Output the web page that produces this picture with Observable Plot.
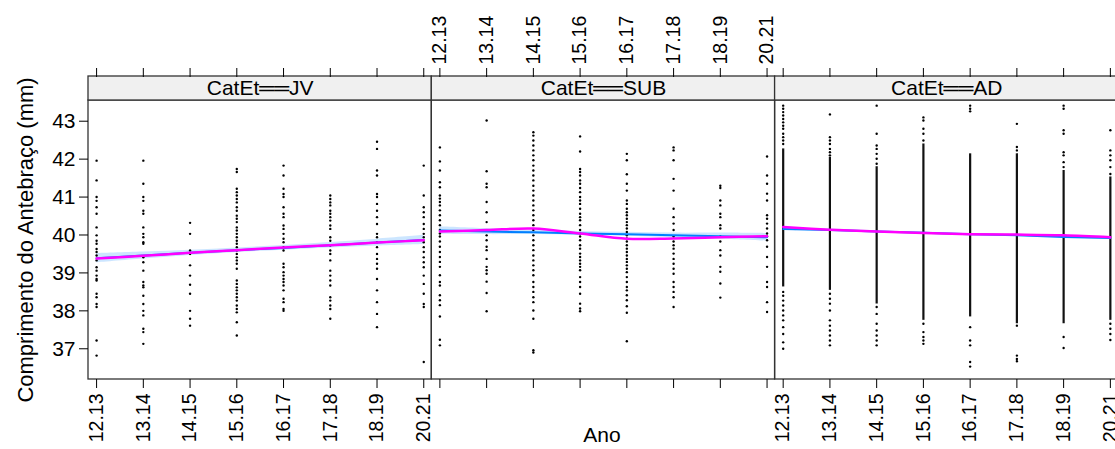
<!DOCTYPE html>
<html><head><meta charset="utf-8">
<script src="https://cdn.jsdelivr.net/npm/d3@7"></script>
<script src="https://cdn.jsdelivr.net/npm/@observablehq/plot@0.6"></script>
<style>
html,body{margin:0;padding:0;background:#fff;overflow:hidden;}
#chart svg{display:block;overflow:hidden;}
</style></head><body><div id="chart"></div>
<script>
// ---------- data ----------
const seasons = ["12.13","13.14","14.15","15.16","16.17","17.18","18.19","20.21"];
const panelNames = ["JV","SUB","AD"];
const yTicks = [37,38,39,40,41,42,43];

// individual forearm lengths (mm) per season
const ptsJV = [
  [41.96,41.44,41.0,40.9,40.73,40.56,40.2,39.99,39.85,39.77,39.63,39.55,39.46,39.33,39.15,39.06,38.93,38.84,38.8,38.45,38.36,38.18,38.1,37.22,36.82],
  [41.96,41.35,41.0,40.9,40.64,40.56,40.2,40.03,39.94,39.81,39.77,39.41,39.28,39.06,38.76,38.67,38.62,38.4,38.18,38.0,37.88,37.53,37.44,37.13],
  [40.32,40.03,39.59,39.5,39.2,38.93,38.69,38.45,38.0,37.79,37.61],
  [41.74,41.66,41.22,41.13,41.04,40.95,40.86,40.73,40.64,40.51,40.43,40.34,40.2,40.12,40.03,39.94,39.85,39.77,39.68,39.59,39.5,39.41,39.33,39.24,39.11,38.8,38.71,38.62,38.54,38.45,38.36,38.27,38.14,38.05,37.96,37.7,37.35],
  [41.83,41.57,41.22,41.08,41.0,40.73,40.56,40.47,40.25,40.16,40.03,39.9,39.81,39.68,39.59,39.24,39.15,39.02,38.93,38.84,38.76,38.67,38.54,38.32,38.23,38.05,38.0],
  [41.04,40.95,40.86,40.78,40.64,40.56,40.47,40.38,40.25,40.16,39.94,39.85,39.72,39.59,39.5,39.33,39.06,38.93,38.8,38.67,38.36,38.27,38.14,38.05,37.79],
  [42.46,42.27,41.7,41.57,41.08,41.0,40.82,40.64,40.47,40.29,40.03,39.94,39.81,39.68,39.5,39.37,39.24,39.11,38.84,38.54,38.23,37.92,37.57],
  [41.83,41.04,40.73,40.6,40.47,40.29,40.16,40.03,39.94,39.81,39.68,39.55,39.41,39.28,39.15,38.93,38.71,38.45,38.18,38.1,36.65]
];
const ptsSUB = [
  [42.31,41.94,41.7,41.39,41.26,41.04,40.96,40.87,40.78,40.65,40.52,40.39,40.26,40.13,40.04,39.96,39.83,39.69,39.55,39.42,39.29,39.16,38.94,38.76,38.67,38.41,38.28,38.15,37.85,37.24,37.09],
  [43.02,41.68,41.35,41.26,40.87,40.6,40.34,39.99,39.86,39.69,39.6,39.37,39.16,39.07,38.98,38.77,38.47,37.99],
  [42.71,42.62,42.49,42.36,42.23,42.1,41.97,41.83,41.7,41.57,41.44,41.3,41.17,41.04,40.91,40.78,40.65,40.52,40.39,40.26,40.13,39.99,39.86,39.73,39.6,39.46,39.33,39.2,39.07,38.94,38.76,38.63,38.5,38.36,38.23,38.01,37.79,36.96,36.9],
  [42.6,42.2,41.74,41.66,41.57,41.44,41.35,41.24,41.13,41.0,40.91,40.82,40.69,40.56,40.47,40.39,40.26,40.13,40.04,39.96,39.86,39.73,39.64,39.51,39.42,39.33,39.24,39.16,39.07,38.89,38.76,38.63,38.45,38.19,38.06,37.99],
  [42.14,41.97,41.6,41.35,41.17,40.91,40.82,40.69,40.6,40.52,40.43,40.34,40.26,40.17,40.08,39.99,39.91,39.83,39.73,39.64,39.55,39.46,39.37,39.29,39.2,39.11,39.02,38.89,38.76,38.63,38.54,38.41,38.28,38.12,37.95,37.2],
  [42.31,42.23,41.97,41.48,41.17,40.69,40.47,40.3,40.13,39.96,39.83,39.73,39.64,39.51,39.37,39.24,39.11,38.98,38.76,38.63,38.5,38.36,38.1],
  [41.3,41.24,40.91,40.78,40.56,40.47,40.26,40.17,39.96,39.83,39.6,39.46,39.16,39.03,38.72,38.35],
  [42.07,41.57,41.35,41.09,40.91,40.52,40.43,40.3,40.17,40.04,39.96,39.86,39.69,39.42,39.16,38.76,38.63,38.23,37.97]
];
const ptsAD = [
  [43.41,43.33,43.24,43.15,43.06,42.97,42.88,42.8,42.67,42.58,42.49,42.4,38.5,38.4,38.27,38.14,38.01,37.88,37.75,37.57,37.39,37.17,37.0],
  [43.18,42.58,42.49,42.4,42.27,42.18,42.1,38.45,38.32,38.19,38.01,37.75,37.61,37.48,37.35,37.22,37.09],
  [43.41,42.67,42.36,42.27,42.14,42.01,41.88,38.1,37.92,37.66,37.48,37.35,37.22,37.09],
  [43.1,43.02,42.8,42.67,42.49,37.66,37.44,37.31,37.22,37.13],
  [43.41,43.33,43.26,37.57,37.22,37.09,36.65,36.53],
  [42.93,42.32,42.23,37.61,36.82,36.73,36.67],
  [43.41,43.33,42.76,42.67,42.18,42.1,41.92,41.79,37.31,37.02],
  [42.76,42.23,42.1,41.97,41.79,41.61,37.66,37.53,37.39,37.23]
];
// continuous dense runs of observations in the AD panel [low, high]
const denseAD = [[38.63,42.27],[38.54,42.05],[38.18,41.8],[37.75,42.4],[37.84,42.14],[37.66,42.14],[37.66,41.7],[37.75,41.53]];

// linear fit (blue), its confidence half-width, and loess (magenta)
const lmJV  = [39.39,39.46,39.53,39.60,39.66,39.73,39.80,39.87];
const lmSUB = [40.12,40.09,40.07,40.04,40.02,39.99,39.97,39.94];
const lmAD  = [40.16,40.13,40.09,40.06,40.02,39.99,39.95,39.92];
const ciJV  = [0.12,0.09,0.07,0.06,0.06,0.07,0.09,0.12];
const ciSUB = [0.10,0.08,0.06,0.05,0.05,0.06,0.08,0.10];
const ciAD  = [0.04,0.03,0.025,0.02,0.02,0.025,0.03,0.04];
const loJV  = [39.38,39.45,39.53,39.60,39.67,39.73,39.80,39.86];
const loSUB = [40.09,40.13,40.17,40.04,39.90,39.91,39.94,39.97];
const loAD  = [40.21,40.14,40.09,40.05,40.02,40.01,39.99,39.94];

// ---------- layout helpers ----------
const P = 7.345;      // panel width in season units
const PAD = 0.173;    // padding before first / after last season
const X0 = 1 - PAD;
const yLo = 36.19, yHi = 43.546;
const stripTop = yHi + 24 / (279 / (yHi - yLo));
const gx = (p, i) => p * P + i + 1;

const pts = [];
[ptsJV, ptsSUB, ptsAD].forEach((arr, p) => arr.forEach((vals, i) => vals.forEach(v => pts.push({x: gx(p, i), y: v}))));
const dense = denseAD.map(([a, b], i) => ({x: gx(2, i), y1: a, y2: b}));
const fits = [];
[[lmJV, ciJV, loJV], [lmSUB, ciSUB, loSUB], [lmAD, ciAD, loAD]].forEach(([lm, ci, lo], p) =>
  seasons.forEach((s, i) => fits.push({panel: panelNames[p], x: gx(p, i), lm: lm[i], lo95: lm[i] - ci[i], hi95: lm[i] + ci[i], loess: lo[i]})));
const panels = panelNames.map((n, p) => ({name: n, x1: X0 + p * P, x2: X0 + (p + 1) * P}));

const labelOf = new Map();
const tickSets = panelNames.map((n, p) => seasons.map((s, i) => { labelOf.set(gx(p, i).toFixed(3), s); return gx(p, i); }));
const fmt = d => labelOf.get(d.toFixed(3));

const axes = [];
tickSets.forEach((tp, p) => {
  const labeledTop = p === 1;
  axes.push(Plot.axisX(tp, {anchor: labeledTop ? "top" : "bottom", dy: labeledTop ? -24 : 0, tickRotate: -90, tickSize: 9, tickPadding: labeledTop ? 3 : 5, fontSize: 19.5, tickFormat: fmt, label: null}));
  axes.push(Plot.axisX(tp, {anchor: labeledTop ? "bottom" : "top", dy: labeledTop ? 0 : -24, tickSize: 9, tickFormat: () => "", label: null}));
});

const chart = Plot.plot({
  width: 1115,
  height: 449,
  marginLeft: 88,
  marginRight: 0,
  marginTop: 100,
  marginBottom: 70,
  style: {fontFamily: "'Liberation Sans', Arial, sans-serif", fontSize: "18px", color: "#000", background: "#fff"},
  x: {domain: [X0, X0 + 3 * P], range: [88, 88 + 3 * 343.3]},
  y: {domain: [yLo, yHi]},
  marks: [
    Plot.areaY(fits, {x: "x", y1: "lo95", y2: "hi95", z: "panel", fill: "#0080ff", fillOpacity: 0.2, curve: "catmull-rom"}),
    Plot.dot(pts, {x: "x", y: "y", r: 1.2, fill: "#000", stroke: null}),
    Plot.ruleX(dense, {x: "x", y1: "y1", y2: "y2", stroke: "#111", strokeWidth: 2.2}),
    Plot.line(fits, {x: "x", y: "lm", z: "panel", stroke: "#0080ff", strokeWidth: 2}),
    Plot.line(fits, {x: "x", y: "loess", z: "panel", stroke: "#ff00ff", strokeWidth: 2.5, curve: "catmull-rom"}),
    Plot.rect(panels, {x1: "x1", x2: "x2", y1: yLo, y2: yHi, fill: null, stroke: "#333", strokeWidth: 1.3}),
    Plot.rect(panels, {x1: "x1", x2: "x2", y1: yHi, y2: stripTop, fill: "#f0f0f0", stroke: "#333", strokeWidth: 1.3, clip: false}),
    Plot.text(panels, {x: d => (d.x1 + d.x2) / 2, y: (yHi + stripTop) / 2, text: d => "CatEt══" + d.name, fontSize: 21, fill: "#000"}),
    Plot.axisY(yTicks, {anchor: "left", tickSize: 9, tickPadding: 4, fontSize: 21, label: null}),
    ...axes,
    Plot.text(["Comprimento do Antebraço (mm)"], {frameAnchor: "left", textAnchor: "middle", rotate: -90, dx: -63, fontSize: 22, fill: "#000"}),
    Plot.text(["Ano"], {frameAnchor: "bottom", dy: 62, fontSize: 21, fill: "#000"})
  ]
});
document.getElementById("chart").appendChild(chart);
</script></body></html>
